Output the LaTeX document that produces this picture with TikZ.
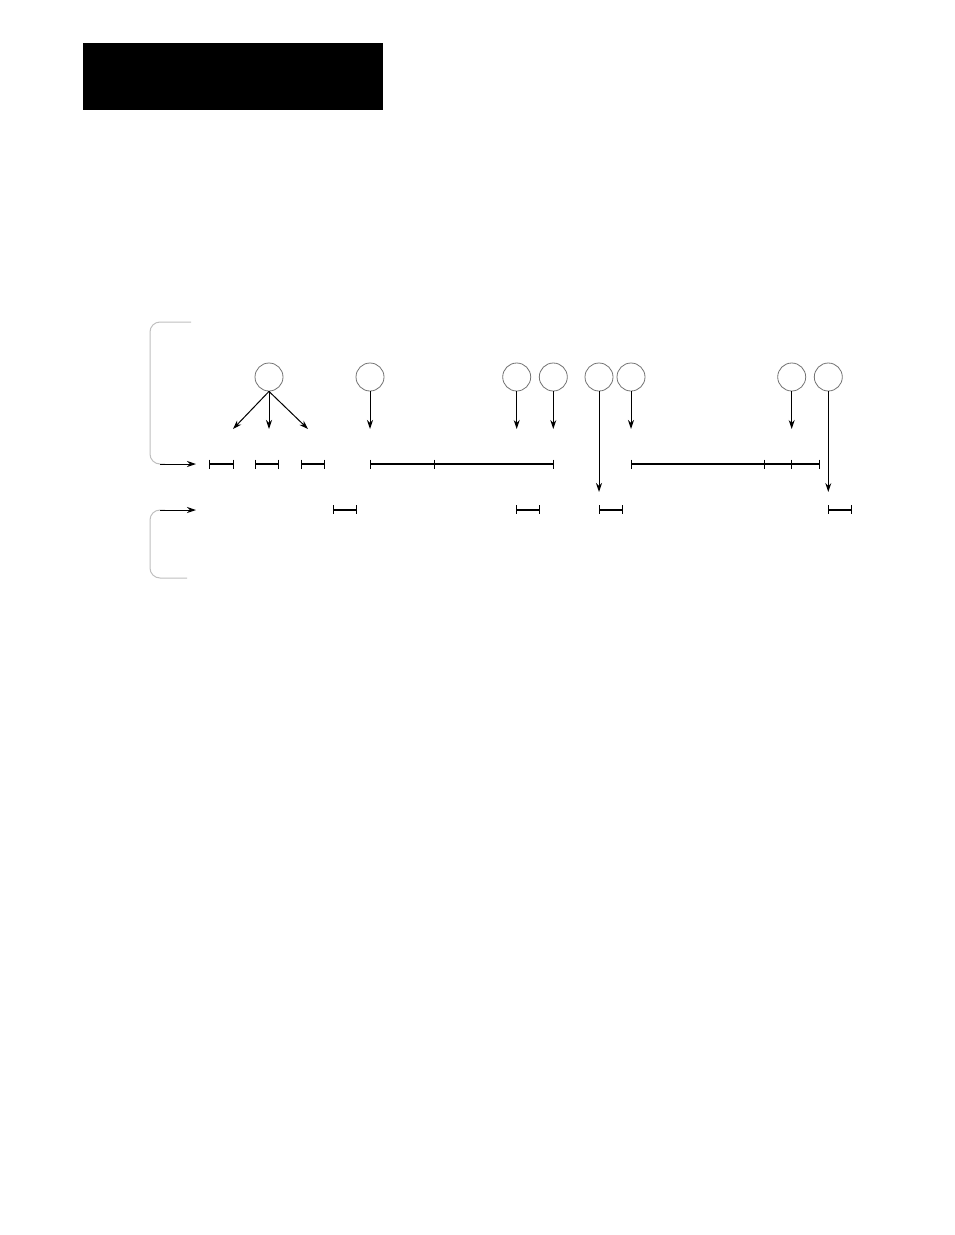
\documentclass[tikz,border=0pt]{standalone}
\usetikzlibrary{arrows.meta}
\begin{document}
\begin{tikzpicture}[x=1pt,y=-1pt,
  bub/.style={circle,draw=black!55,line width=0.8pt,minimum size=28pt,inner sep=0pt},
  arr/.style={line width=1pt,-{Stealth[length=9pt,width=6pt]}},
  seg/.style={line width=2pt},
  tick/.style={line width=1pt},
  brk/.style={draw=black!25,line width=1pt,rounded corners=10pt}]
\useasboundingbox (0,0) rectangle (954,1235);
% black header block
\fill[black] (83,43) rectangle (383,110);
% brackets
\draw[brk] (191,322) -- (150,322) -- (150,464) -- (165,464);
\coordinate (b1s) at (160,464);
\coordinate (b1e) at (196,464);
\draw[arr] (b1s) -- (b1e);
\draw[brk] (165,510) -- (150,510) -- (150,578) -- (187,578);
\coordinate (b2s) at (160,510);
\coordinate (b2e) at (196,510);
\draw[arr] (b2s) -- (b2e);
% circles
\node[bub] (c1) at (269,377) {};
\node[bub] (c2) at (370,377) {};
\node[bub] (c3) at (516.7,377) {};
\node[bub] (c4) at (553.3,377) {};
\node[bub] (c5) at (599,377) {};
\node[bub] (c6) at (631,377) {};
\node[bub] (c7) at (791.7,377) {};
\node[bub] (c8) at (828.3,377) {};
% arrow ends
\coordinate (e1a) at (233,429);
\coordinate (e1b) at (269,429);
\coordinate (e1c) at (308,429);
\coordinate (e2) at (370,429);
\coordinate (e3) at (516.7,429);
\coordinate (e4) at (553.3,429);
\coordinate (e5) at (599,492);
\coordinate (e6) at (631,429);
\coordinate (e7) at (791.7,429);
\coordinate (e8) at (828.3,492);
\draw[arr] (c1.south) -- (e1a);
\draw[arr] (c1.south) -- (e1b);
\draw[arr] (c1.south) -- (e1c);
\draw[arr] (c2.south) -- (e2);
\draw[arr] (c3.south) -- (e3);
\draw[arr] (c4.south) -- (e4);
\draw[arr] (c5.south) -- (e5);
\draw[arr] (c6.south) -- (e6);
\draw[arr] (c7.south) -- (e7);
\draw[arr] (c8.south) -- (e8);
% row 1 segments (y=464)
\foreach \a/\b in {209.3/233.3, 255.3/278.3, 301.3/324.3, 370.3/553.3, 631.7/819.3}{
  \draw[seg] (\a,464) -- (\b,464);
  \draw[tick] (\a,459.5) -- (\a,468.5);
  \draw[tick] (\b,459.5) -- (\b,468.5);
}
\foreach \t in {434.3, 764.3, 791.7}{
  \draw[tick] (\t,459.5) -- (\t,468.5);
}
% row 2 segments (y=510)
\foreach \a/\b in {333.3/356.3, 516.7/539.3, 599.3/622.3, 828.7/851.3}{
  \draw[seg] (\a,509.5) -- (\b,509.5);
  \draw[tick] (\a,505) -- (\a,514);
  \draw[tick] (\b,505) -- (\b,514);
}
\end{tikzpicture}
\end{document}
